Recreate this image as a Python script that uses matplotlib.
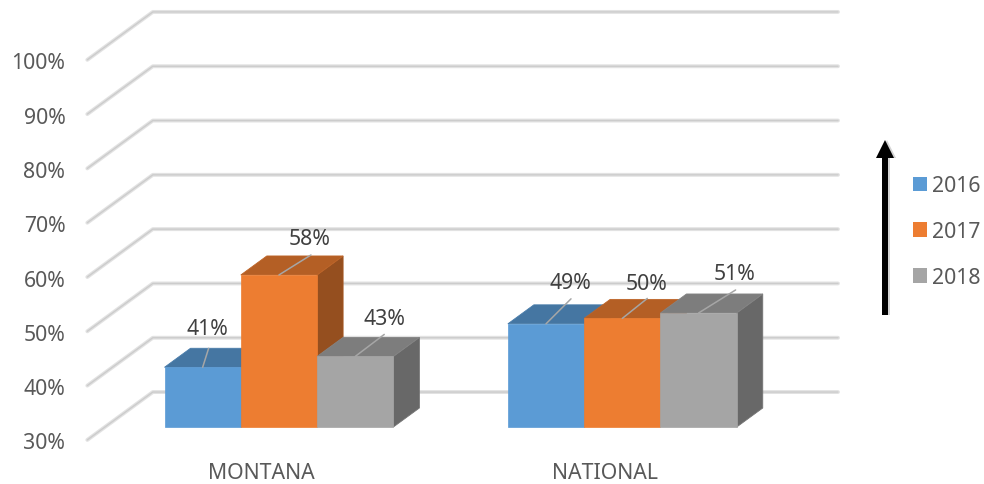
import matplotlib
matplotlib.use('Agg')
import matplotlib.pyplot as plt
from matplotlib.colors import to_rgb
from matplotlib.patches import FancyArrow, Patch, Polygon
from matplotlib.transforms import IdentityTransform

plt.rcParams['font.family'] = ['Noto Sans', 'DejaVu Sans']

categories = ['MONTANA', 'NATIONAL']
years = ['2016', '2017', '2018']
values_2016 = [41, 49]
values_2017 = [58, 50]
values_2018 = [43, 51]
ticks = [30, 40, 50, 60, 70, 80, 90, 100]

colors = ['#5B9BD5', '#ED7D31', '#A5A5A5']

# leader end and label centre, in pixels from the top front edge of each bar
leader_offsets = [[(6, 19), (25, 25)], [(32, 20), (25, 20)], [(29, 22), (37, 23)]]
label_offsets = [[(5, 39), (24, 41)], [(31, 36), (24, 35)], [(29, 38), (36, 39)]]

WIDTH, HEIGHT = 984, 485
BAR_PX = 76.3       # one bar width
PCT_PX = 5.43       # one percentage point
ORIGIN_X, ORIGIN_Y = 164.5, 428  # front left corner of the first bar, 30% level
DEPTH_X, DEPTH_Y = 26 / BAR_PX, 19 / PCT_PX  # oblique shift for one bar depth
GROUP_STEP = 4.5
FLOOR_FRONT, FLOOR_BACK = -0.68, 1.84
FLOOR_LEFT, FLOOR_RIGHT = -0.78, 8.2
FONT_SIZE = 15.3


def project(x, y, depth=0):
    return x + depth * DEPTH_X, y + depth * DEPTH_Y


def shade(color, factor):
    return tuple(c * factor for c in to_rgb(color))


def draw_bar(ax, x, value, color, base=30):
    x2 = x + 1
    front = [project(x, base), project(x2, base), project(x2, value), project(x, value)]
    top = [project(x, value), project(x2, value), project(x2, value, 1), project(x, value, 1)]
    side = [project(x2, base), project(x2, base, 1), project(x2, value, 1), project(x2, value)]
    ax.add_patch(Polygon(side, fc=shade(color, 0.63), ec=shade(color, 0.7), lw=0.6, zorder=3))
    ax.add_patch(Polygon(top, fc=shade(color, 0.76), ec=shade(color, 0.8), lw=0.6, zorder=3))
    ax.add_patch(Polygon(front, fc=color, ec=color, lw=0.5, zorder=3))


fig = plt.figure(figsize=(WIDTH / 100, HEIGHT / 100), dpi=100)
ax = fig.add_axes([0, 0, 1, 1])
ax.set_xlim(-ORIGIN_X / BAR_PX, (WIDTH - ORIGIN_X) / BAR_PX)
ax.set_ylim(30 - (HEIGHT - ORIGIN_Y) / PCT_PX, 30 + ORIGIN_Y / PCT_PX)
ax.axis('off')

# gridlines run along the side wall, then across the back wall
for tick in ticks:
    xs, ys = zip(project(FLOOR_LEFT, tick, FLOOR_FRONT),
                 project(FLOOR_LEFT, tick, FLOOR_BACK),
                 project(FLOOR_RIGHT, tick, FLOOR_BACK))
    ax.plot(xs, ys, color='#e2e2e2', lw=2.8, solid_capstyle='round', zorder=1)
    ax.plot(xs, ys, color='#cccccc', lw=1.0, solid_capstyle='round', zorder=2)
    ax.annotate(f'{tick}%', project(FLOOR_LEFT, tick, FLOOR_FRONT), xytext=(-22, -3),
                textcoords='offset pixels', ha='right', va='center',
                fontsize=FONT_SIZE, color='#595959')

series = [values_2016, values_2017, values_2018]
for g, name in enumerate(categories):
    left = g * GROUP_STEP
    for s, values in enumerate(series):
        draw_bar(ax, left + s, values[g], colors[s])
    ax.annotate(name, project(left + 1.5, 30, FLOOR_FRONT), xytext=(0, -33),
                textcoords='offset pixels', ha='center', va='center',
                fontsize=FONT_SIZE, color='#595959')

# data labels with their leader lines
for g in range(len(categories)):
    left = g * GROUP_STEP
    for s, values in enumerate(series):
        anchor = (left + s + 0.5, values[g])
        ax.annotate('', anchor, xytext=leader_offsets[s][g], textcoords='offset pixels',
                    arrowprops=dict(arrowstyle='-', color='#a6a6a6', lw=1.1,
                                    shrinkA=0, shrinkB=0), zorder=5)
        ax.annotate(f'{values[g]}%', anchor, xytext=label_offsets[s][g],
                    textcoords='offset pixels', ha='center', va='center',
                    fontsize=FONT_SIZE, color='#404040', zorder=5)

# upward arrow beside the legend, in pixel coordinates
for shift, color in [(2, '#d4d4d4'), (0, 'black')]:
    fig.add_artist(FancyArrow(885 + shift, 169, 0, 175, width=6, head_width=18, head_length=18,
                              length_includes_head=True, color=color, lw=0,
                              transform=IdentityTransform()))

handles = [Patch(fc=c, ec='none') for c in colors]
ax.legend(handles, years, loc='center left', bbox_to_anchor=(913 / WIDTH, 1 - 232.5 / HEIGHT),
          frameon=False, fontsize=FONT_SIZE, labelcolor='#595959', borderpad=0, borderaxespad=0,
          handlelength=0.68, handleheight=0.68, handletextpad=0.22, labelspacing=1.16)

fig.savefig('out.png', dpi=100, facecolor='white')
